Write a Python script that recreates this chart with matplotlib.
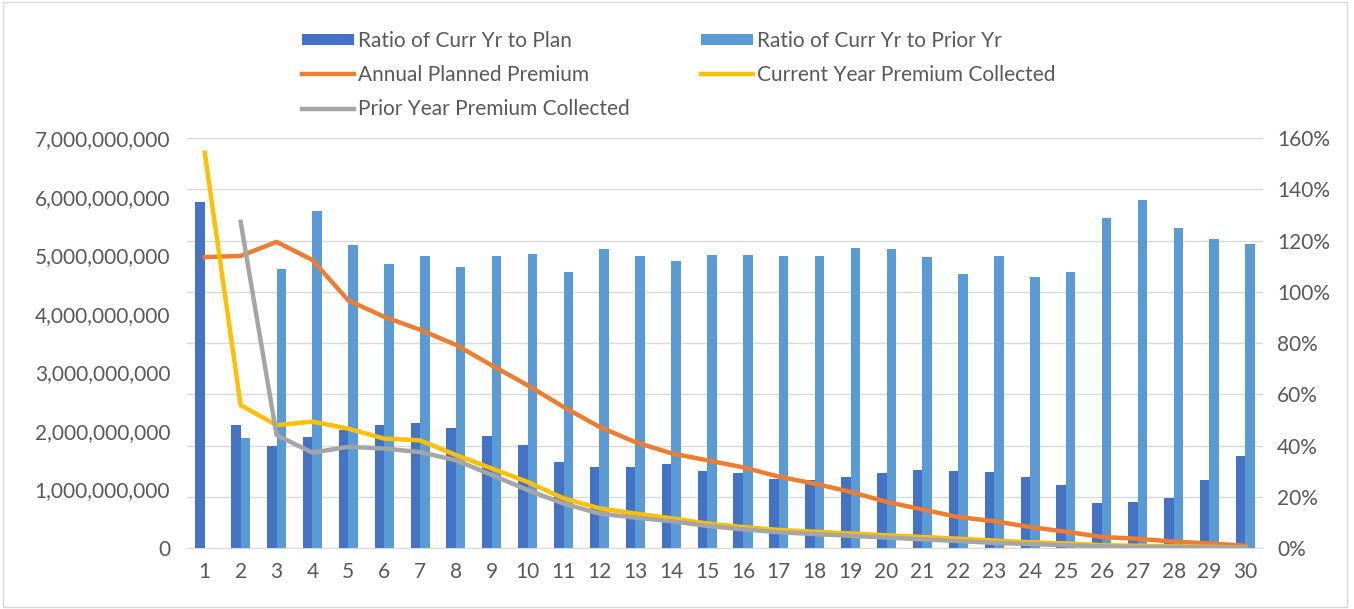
import matplotlib.pyplot as plt
import matplotlib.ticker as mticker
import numpy as np

plt.rcParams['font.family'] = ['Lato', 'DejaVu Sans']

years = list(range(1, 31))

# ratios (right axis, %)
ratio_plan = [135, 48, 40, 43.4, 46, 48, 49, 47, 43.7, 40.2, 33.7, 31.6, 31.6, 32.7, 30.2,
              29.2, 26.8, 26.5, 27.6, 29.5, 30.4, 30.2, 29.7, 27.6, 24.6, 17.7, 18.1, 19.6, 26.5, 36]
ratio_prior = [np.nan, 43, 109, 131.6, 118.5, 110.8, 114, 109.8, 114, 114.7, 107.8, 116.7, 114, 112, 114.6,
               114.6, 114, 114, 117.3, 116.6, 113.7, 107, 114, 105.9, 107.8, 128.9, 136, 125, 120.6, 118.9]

# premiums (left axis, billions)
annual_plan = [4.97, 4.99, 5.23, 4.92, 4.23, 3.95, 3.73, 3.47, 3.12, 2.78, 2.41, 2.07, 1.81, 1.62, 1.50,
               1.38, 1.22, 1.10, 0.96, 0.79, 0.66, 0.53, 0.46, 0.36, 0.28, 0.19, 0.16, 0.11, 0.08, 0.04]
curr_year = [6.75, 2.44, 2.10, 2.16, 2.04, 1.87, 1.84, 1.59, 1.36, 1.13, 0.85, 0.68, 0.59, 0.51, 0.42,
             0.36, 0.31, 0.28, 0.25, 0.22, 0.19, 0.16, 0.13, 0.10, 0.08, 0.05, 0.04, 0.03, 0.02, 0.01]
prior_year = [np.nan, 5.57, 1.93, 1.63, 1.73, 1.70, 1.64, 1.50, 1.25, 0.99, 0.76, 0.59, 0.52, 0.46, 0.38,
              0.32, 0.27, 0.24, 0.21, 0.18, 0.15, 0.12, 0.09, 0.07, 0.05, 0.03, 0.02, 0.02, 0.01, 0.01]

grey_txt = '#595959'
fig = plt.figure(figsize=(13.54, 6.09), dpi=100)
ax = fig.add_axes([0.138, 0.100, 0.795, 0.673])
ax2 = ax.twinx()

x = np.array(years)
w = 0.265
b1 = ax2.bar(x - w / 2, ratio_plan, width=w, color='#4472C4', label='Ratio of Curr Yr to Plan', zorder=2)
b2 = ax2.bar(x + w / 2, ratio_prior, width=w, color='#5B9BD5', label='Ratio of Curr Yr to Prior Yr', zorder=2)

# lines drawn on top of bars
ax.set_zorder(ax2.get_zorder() + 1)
ax.patch.set_visible(False)
l1, = ax.plot(x, np.array(annual_plan) * 1e9, color='#ED7D31', lw=3.2, label='Annual Planned Premium')
l2, = ax.plot(x, np.array(curr_year) * 1e9, color='#FFC000', lw=3.2, label='Current Year Premium Collected')
l3, = ax.plot(x, np.array(prior_year) * 1e9, color='#A5A5A5', lw=3.2, label='Prior Year Premium Collected')

ax.set_xlim(0.5, 30.5)
ax.set_ylim(0, 7e9)
ax2.set_ylim(0, 160)
ax.set_xticks(years)
ax.set_yticks(np.arange(0, 7.01e9, 1e9))
ax2.set_yticks(np.arange(0, 161, 20))
ax.yaxis.set_major_formatter(mticker.FuncFormatter(lambda v, p: f'{v:,.0f}'))
ax2.yaxis.set_major_formatter(mticker.FuncFormatter(lambda v, p: f'{v:.0f}%'))

ax2.grid(axis='y', color='#D9D9D9', lw=1, zorder=0)
ax2.set_axisbelow(True)
for a in (ax, ax2):
    for s in a.spines.values():
        s.set_visible(False)
    a.tick_params(length=0, labelsize=15, labelcolor=grey_txt)
ax.spines['bottom'].set_visible(True)
ax.spines['bottom'].set_color('#D9D9D9')
ax.tick_params(axis='x', pad=10)
ax.tick_params(axis='y', pad=12)
ax2.tick_params(axis='y', pad=10)

handles = [b1, l1, l3, b2, l2]
fig.legend(handles=handles, labels=[h.get_label() for h in handles], ncol=2,
           loc='upper left', bbox_to_anchor=(0.209, 0.98), frameon=False,
           fontsize=15, labelcolor=grey_txt, handlelength=2.5, handleheight=0.5,
           handletextpad=0.2, columnspacing=3.4, labelspacing=0.68)

fig.patches.append(plt.Rectangle((0.002, 0.003), 0.993, 0.994, transform=fig.transFigure,
                                 fill=False, edgecolor='#D9D9D9', lw=1))
fig.savefig('out.png', dpi=100)
